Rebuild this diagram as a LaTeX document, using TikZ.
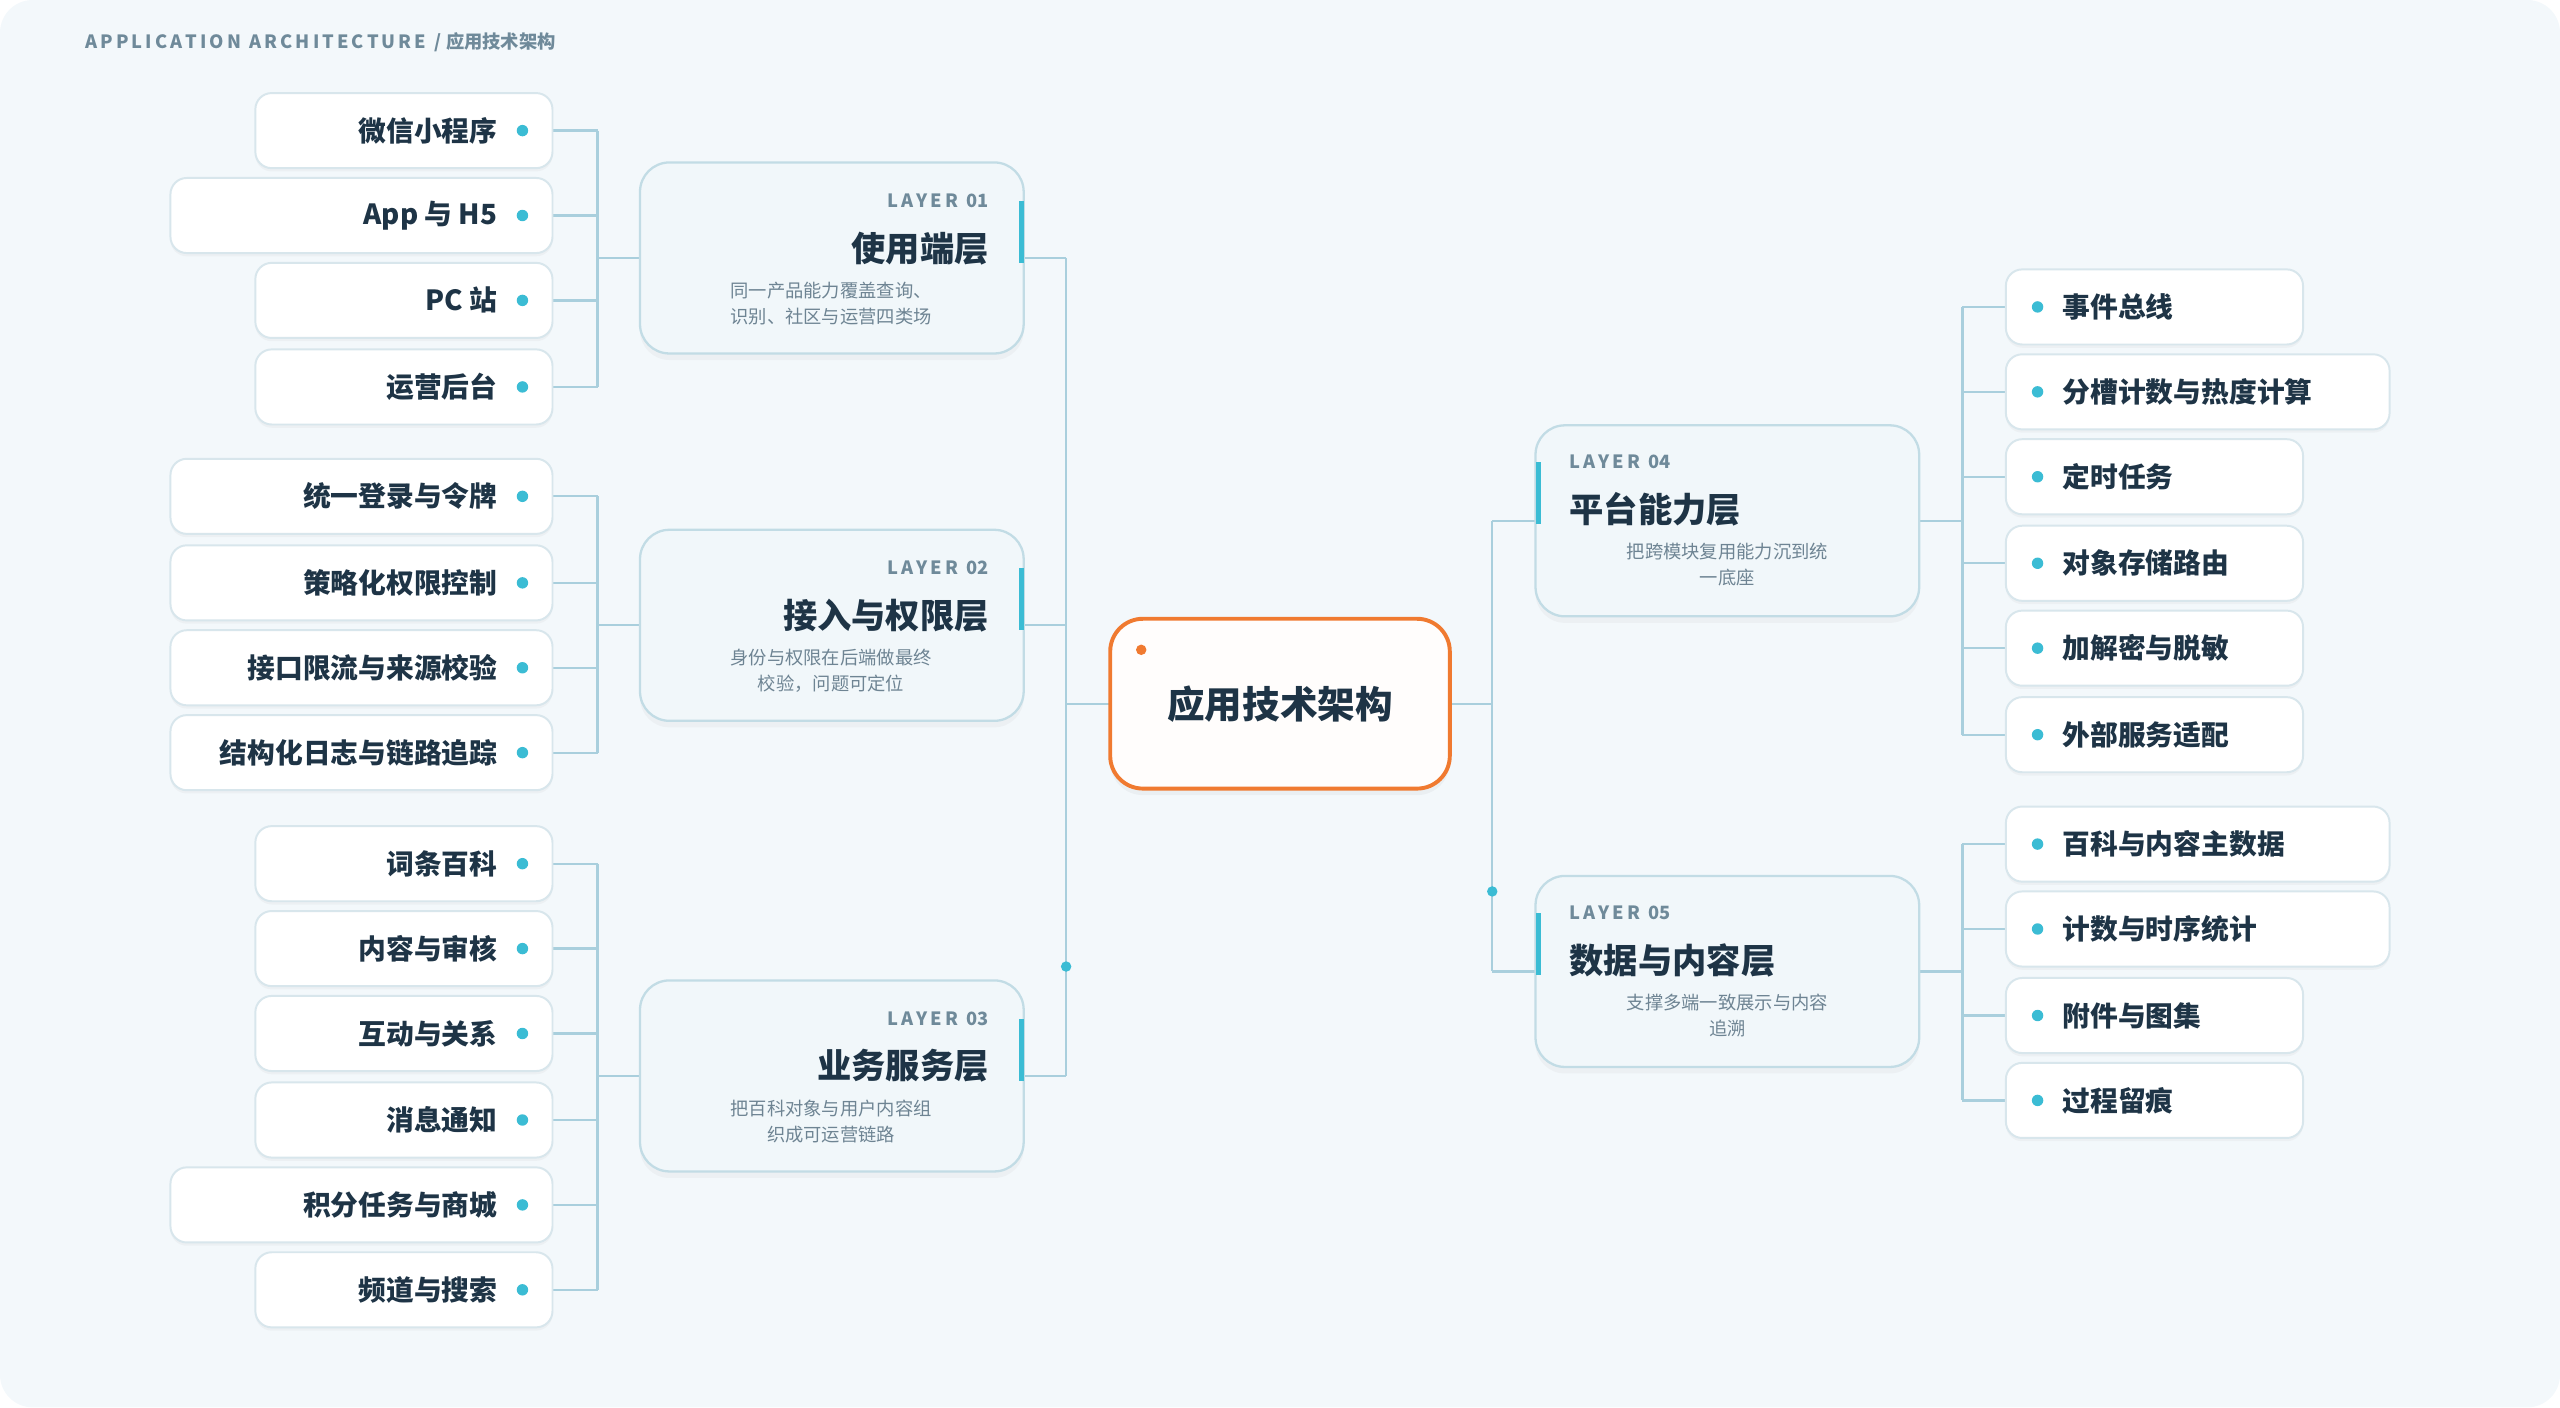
\documentclass[tikz,border=0pt]{standalone}
\usepackage{fontspec}
\setmainfont{Noto Sans CJK SC}
\usetikzlibrary{shadows}
\definecolor{bgc}{HTML}{F3F8FB}
\definecolor{wire}{HTML}{A9CFDD}
\definecolor{leafline}{HTML}{D8E6EC}
\definecolor{layline}{HTML}{C2DCE5}
\definecolor{layfill}{HTML}{F1F7FA}
\definecolor{accent}{HTML}{3BBCD4}
\definecolor{ink}{HTML}{1E3446}
\definecolor{muted}{HTML}{6E8493}
\definecolor{tag}{HTML}{6F8A9A}
\definecolor{hub}{HTML}{F07A30}
\tikzset{
  leaf/.style={draw=leafline, line width=0.6pt, fill=white, rounded corners=5pt, minimum height=23pt, inner sep=0pt, drop shadow={opacity=0.06, shadow xshift=0pt, shadow yshift=-1pt}},
  layer/.style={draw=layline, line width=0.7pt, fill=layfill, rounded corners=9pt, minimum width=117.5pt, minimum height=58.5pt, inner sep=0pt, drop shadow={opacity=0.06, shadow xshift=0pt, shadow yshift=-2pt}},
  leaftext/.style={text=ink, font=\fontsize{8.5}{10}\selectfont\bfseries, inner sep=0pt},
  tagtext/.style={text=tag, font=\fontsize{5.6}{7}\selectfont\bfseries, inner sep=0pt},
  titletext/.style={text=ink, font=\fontsize{10.5}{12}\selectfont\bfseries, inner sep=0pt},
  desctext/.style={text=muted, font=\fontsize{5.6}{8}\selectfont, align=center, inner sep=0pt},
  wire/.style={draw=wire, line width=0.7pt},
  bullet/.style={circle, fill=accent, minimum size=3.5pt, inner sep=0pt},
}
\begin{document}
\begin{tikzpicture}[x=0.5pt, y=-0.5pt]
  \useasboundingbox (0,0) rectangle (1568,862);
  \fill[bgc, rounded corners=10pt] (0,0) rectangle (1568,862);
  \node[anchor=west, inner sep=0pt, text=tag, font=\fontsize{5.6}{7}\selectfont\bfseries] (head) at (52,26) {A\,P\,P\,L\,I\,C\,A\,T\,I\,O\,N\ \ A\,R\,C\,H\,I\,T\,E\,C\,T\,U\,R\,E\ \ /\ 应用技术架构};

  % spines
  \coordinate (ls) at (653,158);
  \coordinate (le) at (653,659);
  \coordinate (rs) at (914,319);
  \coordinate (re) at (914,595);
  \draw[wire] (ls) -- (le);
  \draw[wire] (rs) -- (re);
  \draw[wire] (653,431) -- (680,431);
  \draw[wire] (888,431) -- (914,431);
  \fill[accent] (653,592) circle (1.6pt);
  \fill[accent] (914,546) circle (1.6pt);

  % hub
  \node[draw=hub, line width=1.2pt, fill=white!70!orange!4, rounded corners=10pt, minimum width=104pt, minimum height=52pt, drop shadow={opacity=0.07, shadow xshift=0pt, shadow yshift=-2pt}] (hub) at (784,431) {};
  \node[text=ink, font=\fontsize{11.5}{13}\selectfont\bfseries] (hubtext) at (hub) {应用技术架构};
  \fill[hub] (699,398) circle (1.6pt);

  % left layers
  \foreach \n/\y/\tg/\tt/\da/\db in {
      1/158/01/使用端层/同一产品能力覆盖查询、/识别、社区与运营四类场,
      2/383/02/接入与权限层/身份与权限在后端做最终/校验，问题可定位,
      3/659/03/业务服务层/把百科对象与用户内容组/织成可运营链路}{
    \draw[wire] (627,\y) -- (653,\y);
    \draw[wire] (366,\y) -- (392,\y);
    \node[layer] (L\n) at (509.5,\y) {};
    \fill[accent] (624,\y-35) rectangle (627,\y+3);
    \node[tagtext, anchor=east] (L\n tag) at (606,\y-35) {L\,A\,Y\,E\,R\ \ \tg};
    \node[titletext, anchor=east] (L\n title) at (606,\y-6) {\tt};
    \node[desctext] (L\n desc) at (509,\y+28) {\da\\\db};
  }
  % right layers
  \foreach \n/\y/\tg/\tt/\da/\db in {
      4/319/04/平台能力层/把跨模块复用能力沉到统/一底座,
      5/595/05/数据与内容层/支撑多端一致展示与内容/追溯}{
    \draw[wire] (914,\y) -- (941,\y);
    \draw[wire] (1175,\y) -- (1202,\y);
    \node[layer] (L\n) at (1058,\y) {};
    \fill[accent] (941,\y-36) rectangle (944,\y+2);
    \node[tagtext, anchor=west] (L\n tag) at (961,\y-36) {L\,A\,Y\,E\,R\ \ \tg};
    \node[titletext, anchor=west] (L\n title) at (961,\y-7) {\tt};
    \node[desctext] (L\n desc) at (1058,\y+27) {\da\\\db};
  }

  % left buses
  \draw[wire] (366,80) -- (366,237);
  \draw[wire] (366,304) -- (366,461);
  \draw[wire] (366,529) -- (366,790);
  \foreach \y/\w/\t [count=\i] in {
      80/91/微信小程序, 132/117/App 与 H5, 184/91/PC 站, 237/91/运营后台,
      304/117/统一登录与令牌, 357/117/策略化权限控制, 409/117/接口限流与来源校验, 461/117/结构化日志与链路追踪,
      529/91/词条百科, 581/91/内容与审核, 633/91/互动与关系, 686/91/消息通知, 738/117/积分任务与商城, 790/91/频道与搜索}{
    \draw[wire] (339,\y) -- (366,\y);
    \node[leaf, anchor=east, minimum width=\w pt] (a\i) at (339,\y) {};
    \node[bullet] (a\i dot) at (320,\y) {};
    \node[leaftext, anchor=east] (a\i text) at (305,\y) {\t};
  }

  % right buses
  \draw[wire] (1202,188) -- (1202,450);
  \draw[wire] (1202,517) -- (1202,674);
  \foreach \y/\w/\t [count=\i] in {
      188/91/事件总线, 240/117.5/分槽计数与热度计算, 292/91/定时任务, 345/91/对象存储路由, 397/91/加解密与脱敏, 450/91/外部服务适配,
      517/117.5/百科与内容主数据, 569/117.5/计数与时序统计, 622/91/附件与图集, 674/91/过程留痕}{
    \draw[wire] (1202,\y) -- (1228,\y);
    \node[leaf, anchor=west, minimum width=\w pt] (b\i) at (1228,\y) {};
    \node[bullet] (b\i dot) at (1248,\y) {};
    \node[leaftext, anchor=west] (b\i text) at (1263,\y) {\t};
  }
\end{tikzpicture}
\end{document}
